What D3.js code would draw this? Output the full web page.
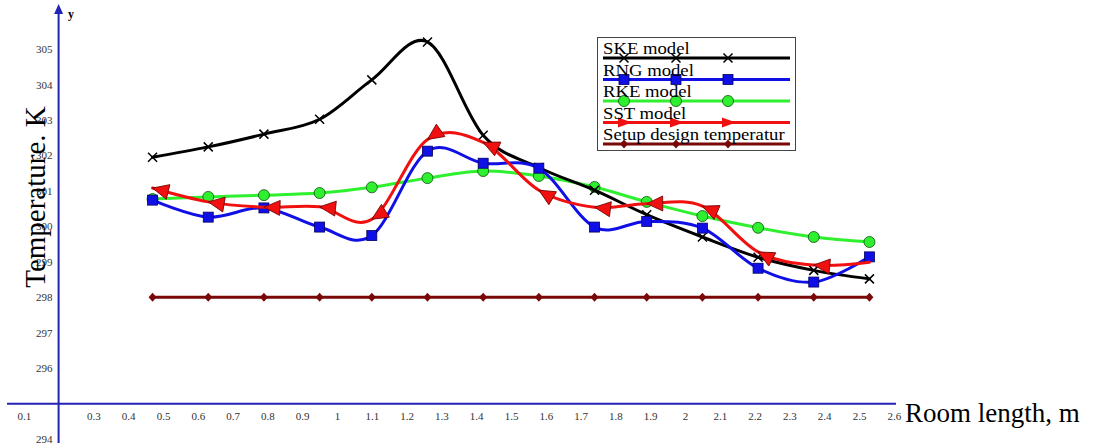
<!DOCTYPE html>
<html>
<head>
<meta charset="utf-8">
<script src="https://cdn.jsdelivr.net/npm/d3@7"></script>
<style>
  body { margin: 0; background: #fff; }
  svg text { font-family: "Liberation Serif", "Times New Roman", serif; }
</style>
</head>
<body>
<svg id="chart"></svg>
<script>
// room length positions (m)
const lengths = [0.47, 0.63, 0.79, 0.95, 1.1, 1.26, 1.42, 1.58, 1.74, 1.89, 2.05, 2.21, 2.37, 2.53];

// temperatures (K) per model
const skeModel = [301.95, 302.24, 302.6, 303.02, 304.13, 305.2, 302.57, 301.66, 301.02, 300.33, 299.7, 299.13, 298.76, 298.52];
const rngModel = [300.74, 300.26, 300.52, 299.98, 299.74, 302.12, 301.78, 301.64, 299.98, 300.14, 299.95, 298.82, 298.43, 299.14];
const rkeModel = [300.77, 300.83, 300.88, 300.94, 301.1, 301.36, 301.56, 301.42, 301.11, 300.69, 300.29, 299.96, 299.7, 299.56];
const sstModel = [301.08, 300.69, 300.54, 300.55, 300.2, 302.45, 302.37, 301.02, 300.54, 300.64, 300.57, 299.28, 298.91, 298.99];
const setupDesign = [298, 298, 298, 298, 298, 298, 298, 298, 298, 298, 298, 298, 298, 298];

const seriesNames = ["SKE model", "RNG model", "RKE model", "SST model", "Setup design temperatur"];

const xTicks = [0.1, 0.3, 0.4, 0.5, 0.6, 0.7, 0.8, 0.9, 1, 1.1, 1.2, 1.3, 1.4, 1.5, 1.6, 1.7, 1.8, 1.9, 2, 2.1, 2.2, 2.3, 2.4, 2.5, 2.6];
const yTicks = [294, 296, 297, 298, 299, 300, 301, 302, 303, 304, 305];

const svgWidth = 1110, svgHeight = 443;
const axisBlue = "#2424b4";

const svg = d3.select("#chart")
  .attr("width", svgWidth)
  .attr("height", svgHeight);

const x = d3.scaleLinear().domain([0.1, 2.6]).range([23.8, 893.8]);
const y = d3.scaleLinear().domain([294, 305]).range([439.2, 49.0]);

// ---- axes ----
const x0 = x(0.2), y0 = y(295);

svg.append("g")
  .attr("transform", "translate(0," + y0 + ")")
  .call(d3.axisBottom(x).tickValues(xTicks).tickSize(0).tickPadding(8)
    .tickFormat(d => d3.format("~g")(d)))
  .call(g => g.select(".domain").remove())
  .call(g => g.selectAll("text")
    .attr("font-family", "Liberation Serif, serif")
    .attr("font-size", 11)
    .attr("fill", "#333"));

svg.append("g")
  .attr("transform", "translate(" + x0 + ",0)")
  .call(d3.axisLeft(y).tickValues(yTicks).tickSize(0).tickPadding(6)
    .tickFormat(d3.format("d")))
  .call(g => g.select(".domain").remove())
  .call(g => g.selectAll("text")
    .attr("font-family", "Liberation Serif, serif")
    .attr("font-size", 11)
    .attr("fill", "#333"));

svg.append("line")
  .attr("x1", 7).attr("x2", 896)
  .attr("y1", y0).attr("y2", y0)
  .attr("stroke", axisBlue).attr("stroke-width", 2);

svg.append("line")
  .attr("x1", x0).attr("x2", x0)
  .attr("y1", 12).attr("y2", svgHeight)
  .attr("stroke", axisBlue).attr("stroke-width", 2);

svg.append("path")
  .attr("d", `M${x0},4 L${x0 - 4.5},14 L${x0 + 4.5},14 Z`)
  .attr("fill", axisBlue);

svg.append("text")
  .attr("x", 68).attr("y", 18)
  .attr("font-size", 12).attr("font-weight", "bold")
  .text("y");

svg.append("text")
  .attr("transform", "translate(45,197) rotate(-90)")
  .attr("text-anchor", "middle")
  .attr("font-size", 29)
  .text("Temperature. K");

svg.append("text")
  .attr("x", 905).attr("y", 422)
  .attr("font-size", 27)
  .text("Room length, m");

// ---- series ----
const line = d3.line()
  .x(d => x(d.x))
  .y(d => y(d.y))
  .curve(d3.curveCatmullRom.alpha(0));

const toPts = vals => vals.map((v, i) => ({ x: lengths[i], y: v }));

const series = [
  { name: seriesNames[4], vals: setupDesign, color: "#7a0808", marker: "diamond" },
  { name: seriesNames[2], vals: rkeModel, color: "#2ef02e", marker: "circle" },
  { name: seriesNames[0], vals: skeModel, color: "#000000", marker: "cross" },
  { name: seriesNames[1], vals: rngModel, color: "#1010e6", marker: "square" },
  { name: seriesNames[3], vals: sstModel, color: "#f01010", marker: "triangle" }
];

const drawMarker = (g, type, px, py, angle) => {
  if (type === "cross") {
    g.append("path")
      .attr("d", `M${px - 4.5},${py - 4.5}L${px + 4.5},${py + 4.5}M${px - 4.5},${py + 4.5}L${px + 4.5},${py - 4.5}`)
      .attr("stroke", "#000").attr("stroke-width", 1.5).attr("fill", "none");
  } else if (type === "square") {
    g.append("rect")
      .attr("x", px - 5).attr("y", py - 5).attr("width", 10).attr("height", 10)
      .attr("fill", "#1010e6").attr("stroke", "#000060").attr("stroke-width", 0.8);
  } else if (type === "circle") {
    g.append("circle")
      .attr("cx", px).attr("cy", py).attr("r", 5.5)
      .attr("fill", "#2ef02e").attr("stroke", "#0a500a").attr("stroke-width", 0.8);
  } else if (type === "diamond") {
    g.append("path")
      .attr("d", `M${px},${py - 4.5}L${px + 4},${py}L${px},${py + 4.5}L${px - 4},${py}Z`)
      .attr("fill", "#7a0808");
  } else if (type === "triangle") {
    g.append("path")
      .attr("d", "M0,0L16,-7.5L16,7.5Z")
      .attr("transform", `translate(${px},${py}) rotate(${angle})`)
      .attr("fill", "#f01010").attr("stroke", "#700000").attr("stroke-width", 0.8);
  }
};

for (let s of series) {
  const pts = toPts(s.vals);
  svg.append("path")
    .datum(pts)
    .attr("fill", "none")
    .attr("stroke", s.color)
    .attr("stroke-width", 3)
    .attr("stroke-linejoin", "round")
    .attr("stroke-linecap", "round")
    .attr("d", line);

  const mg = svg.append("g");
  pts.forEach((d, i) => {
    if (s.marker === "triangle" && i === pts.length - 1) return;
    const a = pts[Math.max(i - 1, 0)], b = pts[Math.min(i + 1, pts.length - 1)];
    const ang = Math.atan2(y(b.y) - y(a.y), x(b.x) - x(a.x)) * 180 / Math.PI;
    drawMarker(mg, s.marker, x(d.x), y(d.y), ang);
  });
}

// ---- legend ----
const legend = svg.append("g");
legend.append("rect")
  .attr("x", 597.5).attr("y", 37.5).attr("width", 198).attr("height", 113)
  .attr("fill", "#fff").attr("stroke", "#444").attr("stroke-width", 1);

const legendItems = [
  { name: seriesNames[0], color: "#000000", marker: "cross" },
  { name: seriesNames[1], color: "#1010e6", marker: "square" },
  { name: seriesNames[2], color: "#2ef02e", marker: "circle" },
  { name: seriesNames[3], color: "#f01010", marker: "triangle" },
  { name: seriesNames[4], color: "#7a0808", marker: "diamond" }
];

legendItems.forEach((it, i) => {
  const ly = 58 + i * 21.5;
  legend.append("line")
    .attr("x1", 603).attr("x2", 790).attr("y1", ly).attr("y2", ly)
    .attr("stroke", it.color).attr("stroke-width", 3);
  [624, 676, 728].forEach(mx => {
    if (it.marker === "triangle") {
      legend.append("path")
        .attr("d", `M${mx + 8},${ly}L${mx - 6},${ly - 5}L${mx - 6},${ly + 5}Z`)
        .attr("fill", "#f01010");
    } else {
      drawMarker(legend, it.marker, mx, ly, 0);
    }
  });
  legend.append("text")
    .attr("transform", `translate(603,${ly - 4}) scale(1.1,1)`)
    .attr("font-size", 17)
    .text(it.name);
});
</script>
</body>
</html>
